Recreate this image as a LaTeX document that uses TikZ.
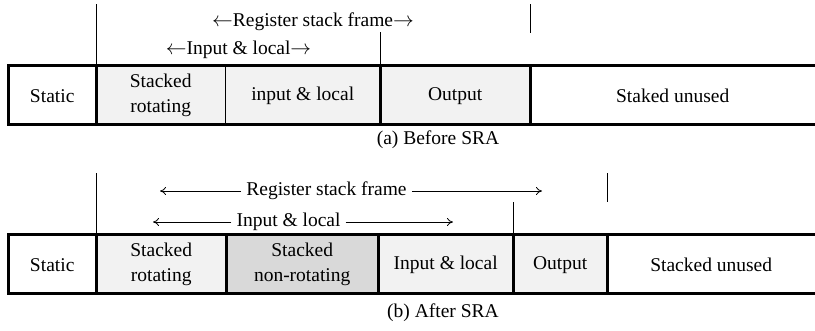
\documentclass[tikz,border=0pt]{standalone}
\usepackage{fontspec}
\setmainfont{Liberation Serif}
\usetikzlibrary{arrows.meta}
\definecolor{lightcell}{HTML}{F2F2F2}
\definecolor{darkcell}{HTML}{D9D9D9}
\tikzset{
  txt/.style={font=\fontsize{19.5}{25}\selectfont, inner sep=0pt, align=center},
  cell/.style={txt, anchor=north west, minimum height=59pt},
  outline/.style={line width=3pt},
  thin/.style={line width=0.9pt},
  longarrow/.style={line width=0.8pt, -{To[length=6pt,width=8pt]}},
}
\begin{document}
\begin{tikzpicture}[x=1pt,y=-1pt]
\useasboundingbox (0,0) rectangle (815,330);
% ---------- (a) Before SRA ----------
\node[cell, minimum width=88pt] (aS) at (8,66) {Static};
\node[cell, fill=lightcell, minimum width=129pt] (aR) at (96,66) {Stacked\\rotating};
\node[cell, fill=lightcell, minimum width=155pt] (aI) at (225,66) {input \& local};
\node[cell, fill=lightcell, minimum width=150pt] (aO) at (380,66) {Output};
\node[cell, minimum width=285pt] (aU) at (530,66) {Staked unused};
\draw[outline] (815,65) -- (8,65) -- (8,124) -- (815,124);
\draw[outline] (96,65) -- (96,124);
\draw[thin] (225,65) -- (225,124);
\draw[outline] (380,65) -- (380,124);
\draw[outline] (530,65) -- (530,124);
\draw[thin] (96,4) -- (96,65);
\draw[thin] (380,32) -- (380,65);
\draw[thin] (530,4) -- (530,33);
\node[txt] (aRSF) at (313,22) {$\leftarrow$Register stack frame$\rightarrow$};
\node[txt] (aIL) at (238.5,50) {$\leftarrow$Input \& local$\rightarrow$};
\node[txt] (capA) at (438,140) {(a) Before SRA};
% ---------- (b) After SRA ----------
\node[cell, minimum width=88pt] (bS) at (8,235) {Static};
\node[cell, fill=lightcell, minimum width=130pt] (bR) at (96,235) {Stacked\\rotating};
\node[cell, fill=darkcell, minimum width=152pt] (bN) at (226,235) {Stacked\\non-rotating};
\node[cell, fill=lightcell, minimum width=135pt] (bI) at (378,235) {Input \& local};
\node[cell, fill=lightcell, minimum width=94pt] (bO) at (513,235) {Output};
\node[cell, minimum width=208pt] (bU) at (607,235) {Stacked unused};
\draw[outline] (815,234) -- (8,234) -- (8,293) -- (815,293);
\draw[outline] (96,234) -- (96,293);
\draw[outline] (226,234) -- (226,293);
\draw[outline] (378,234) -- (378,293);
\draw[outline] (513,234) -- (513,293);
\draw[outline] (607,234) -- (607,293);
\draw[thin] (96,173) -- (96,234);
\draw[thin] (513,202) -- (513,234);
\draw[thin] (607,173) -- (607,202);
\node[txt] (bRSF) at (326.5,191) {Register stack frame};
\coordinate (bRSFl) at (160,191);
\coordinate (bRSFr) at (542,191);
\draw[longarrow] (bRSF.west) ++(-5,0) -- (bRSFl);
\draw[longarrow] (bRSF.east) ++(5,0) -- (bRSFr);
\node[txt] (bIL) at (288.5,222) {Input \& local};
\coordinate (bILl) at (153,222);
\coordinate (bILr) at (453,222);
\draw[longarrow] (bIL.west) ++(-5,0) -- (bILl);
\draw[longarrow] (bIL.east) ++(5,0) -- (bILr);
\node[txt] (capB) at (443,313) {(b) After SRA};
\end{tikzpicture}
\end{document}
